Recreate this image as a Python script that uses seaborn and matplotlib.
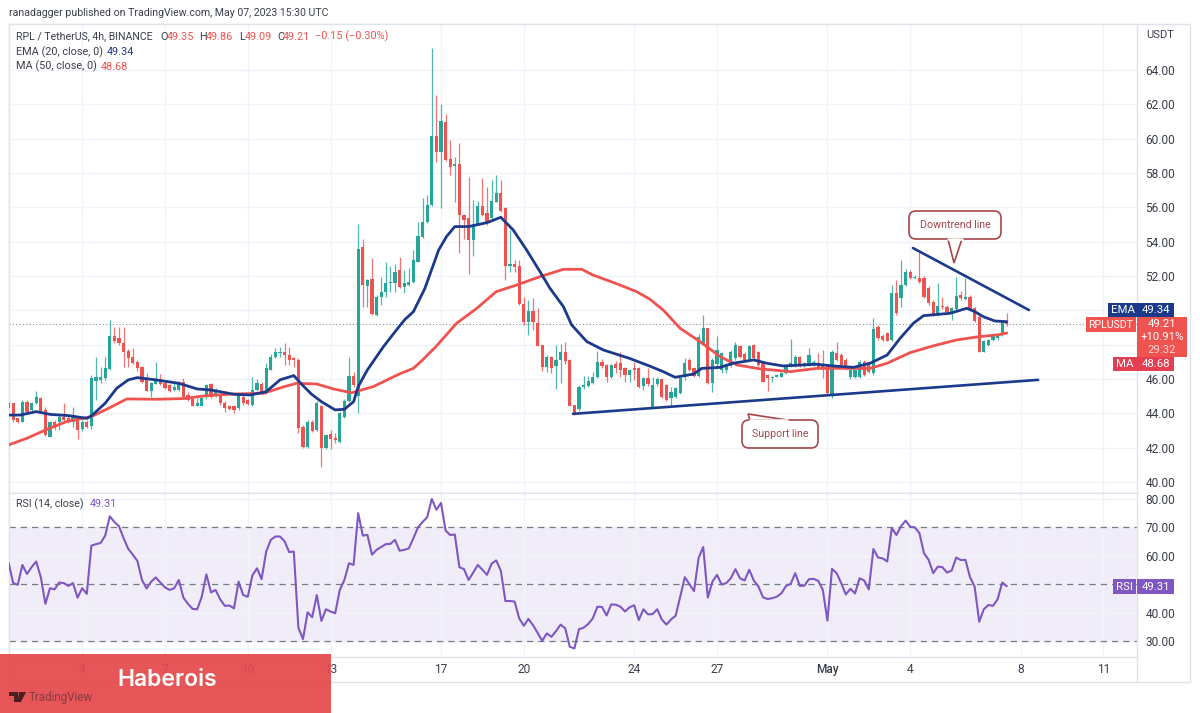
import matplotlib
matplotlib.use("Agg")
import matplotlib.pyplot as plt
import matplotlib.transforms as mtransforms
from matplotlib.patches import FancyBboxPatch, Polygon, Rectangle
import pandas as pd
import seaborn as sns

# 4h candles
open_px = [
    44.29,44.59,43.71,43.52,44.68,44.2,44.59,44.88,44.2,42.65,
    43.52,43.52,43.81,43.71,43.52,43.71,43.07,43.52,43.26,45.91,
    45.95,46.04,46.57,48.51,48.37,48.08,47.63,47.27,47.0,46.68,
    45.95,45.32,45.71,45.98,45.75,45.63,45.36,45.36,45.85,45.07,
    44.82,44.45,44.45,44.94,45.69,45.03,45.07,44.62,44.45,44.45,
    44.29,44.97,44.78,44.49,45.36,45.71,45.17,46.53,47.27,47.5,
    47.6,47.4,47.2,47.11,43.23,42.06,43.52,43.03,44.45,41.96,
    42.8,42.55,42.35,43.81,44.74,46.18,45.0,53.71,51.42,51.81,
    49.73,50.8,51.09,51.57,51.57,52.35,51.34,51.48,51.67,52.84,
    54.29,55.17,56.14,60.16,59.25,60.95,58.8,58.41,58.53,55.56,
    55.36,54.1,55.03,56.1,55.65,55.36,56.33,56.82,55.94,52.58,
    52.7,52.58,50.35,49.34,49.98,49.25,47.98,46.72,47.26,46.76,
    47.11,47.56,47.11,44.49,44.24,45.52,45.6,45.75,46.1,47.01,
    46.82,46.1,46.88,46.92,46.62,46.24,46.62,46.62,45.57,46.04,
    44.39,45.71,46.0,45.65,44.88,44.97,45.21,46.14,47.11,46.62,
    46.18,48.08,48.95,45.75,46.9,46.53,46.53,46.76,47.21,47.93,
    47.46,47.11,47.98,47.6,46.92,46.24,46.04,46.14,46.14,46.33,
    46.76,46.78,47.26,46.78,46.82,46.82,46.92,46.78,46.76,45.07,
    47.5,47.4,47.11,46.14,46.14,46.14,47.01,46.82,46.33,49.05,
    48.51,48.66,48.27,50.99,50.7,51.48,52.26,51.87,51.87,51.87,
    51.28,50.51,49.73,50.26,50.22,49.83,50.06,50.9,50.66,50.8,
    50.12,49.63,47.6,48.0,48.27,48.37,48.56,49.35,
]
close_px = [
    44.59,43.61,43.52,44.68,44.10,44.59,44.97,44.10,42.74,43.52,
    43.23,43.81,43.61,43.52,43.91,43.03,43.52,43.23,46.04,46.1,
    46.14,46.62,48.51,48.24,48.08,47.6,47.2,46.95,46.62,45.85,
    45.32,45.75,45.95,45.71,45.46,45.32,45.56,45.79,44.97,44.78,
    44.45,44.59,44.88,45.65,44.97,45.36,44.59,44.29,44.26,44.2,
    45.13,44.59,44.55,45.36,45.75,45.2,46.62,47.27,47.6,47.6,
    47.4,47.11,47.11,43.13,42.06,43.52,43.0,44.62,41.96,42.74,
    42.51,42.45,44.0,44.74,46.18,45.65,53.59,51.48,51.77,49.79,
    50.8,51.09,51.61,51.67,52.26,51.34,51.61,51.67,52.93,54.33,
    55.17,56.14,60.16,59.25,61.03,58.76,58.33,58.53,55.56,55.26,
    54.1,55.03,56.1,55.56,55.07,56.37,56.82,55.81,52.58,52.7,
    52.55,50.35,49.34,49.98,49.34,47.92,46.72,47.3,46.62,47.11,
    47.6,47.07,44.43,44.04,45.52,45.65,45.91,46.14,47.01,46.76,
    46.14,46.82,46.62,46.53,46.24,46.53,46.53,45.52,46.04,45.71,
    45.65,46.0,44.97,44.78,45.27,45.46,46.04,46.95,46.53,46.18,
    48.47,48.95,45.75,47.11,47.69,47.5,46.82,47.6,47.98,47.27,
    47.11,47.93,47.21,46.82,45.85,46.04,46.14,46.24,46.33,46.82,
    46.92,47.3,46.78,46.95,47.4,47.01,46.72,46.62,45.17,47.6,
    47.11,46.82,46.62,46.53,46.53,47.01,46.24,46.43,48.9,48.37,
    48.27,48.24,51.03,49.83,51.48,52.26,51.87,51.97,51.67,50.8,
    50.41,49.73,50.26,50.18,49.93,50.12,50.84,50.7,50.76,50.06,
    49.4,47.6,48.24,48.27,48.56,48.56,49.35,49.21,
]
high_px = [
    44.88,44.62,43.75,44.75,44.75,44.65,45.32,44.95,44.39,43.55,
    43.6,43.9,44.59,43.9,44.39,43.75,43.6,43.6,46.24,47.3,
    46.72,47.3,49.44,49.01,49.05,49.01,47.75,47.79,47.1,46.75,
    46.33,45.8,47.01,46.27,45.85,45.7,45.75,45.9,46.04,45.26,
    44.9,44.88,44.95,45.7,45.75,45.45,45.15,44.7,44.5,44.5,
    45.2,45.1,44.85,46.14,45.98,45.8,46.95,47.46,47.79,47.89,
    48.12,47.85,47.3,47.2,43.3,43.6,43.6,44.7,44.5,42.8,
    43.03,42.84,44.1,44.85,47.27,46.43,55.01,54.16,51.85,53.03,
    50.9,51.92,52.84,52.59,52.7,53.09,52.35,52.45,53.52,55.17,
    56.53,56.72,65.26,62.55,62.0,61.44,59.92,58.95,59.73,55.6,
    57.79,56.43,56.39,57.69,57.2,57.59,57.89,57.59,56.0,54.68,
    52.93,52.93,50.8,50.6,50.7,50.12,48.0,47.4,47.35,47.98,
    48.04,48.18,47.15,44.5,45.65,46.18,46.18,46.43,47.65,47.15,
    46.9,46.9,47.07,47.59,46.7,46.6,47.01,46.7,46.1,46.62,
    46.14,46.1,46.05,45.7,45.52,45.55,46.1,47.25,47.2,46.7,
    48.6,49.73,49.0,47.2,48.51,47.6,46.9,47.7,48.18,48.0,
    47.55,48.0,48.05,47.65,47.0,46.3,46.2,46.3,46.4,46.9,
    48.31,47.4,47.35,47.0,47.79,47.1,47.5,47.69,46.85,47.7,
    48.18,47.5,47.2,46.6,46.6,47.1,47.1,46.9,49.54,49.15,
    48.6,48.75,51.48,51.77,52.93,52.4,52.35,52.05,53.42,52.0,
    51.4,50.6,51.58,50.8,50.3,50.2,51.96,51.1,51.87,50.9,
    50.2,49.7,48.3,48.35,48.65,48.65,49.4,49.86,
]
low_px = [
    44.25,43.52,43.42,43.5,44.05,44.15,44.55,44.05,42.7,42.6,
    43.03,43.03,43.52,43.45,43.23,42.49,43.0,43.15,43.1,44.78,
    45.75,45.95,46.5,48.08,48.0,46.72,46.68,46.9,46.45,45.75,
    45.3,44.94,45.7,45.65,45.4,45.25,45.3,45.3,44.9,44.7,
    44.4,44.4,44.4,44.85,44.9,44.95,44.5,44.1,44.2,44.0,
    44.2,44.5,44.5,44.4,45.3,45.1,45.1,46.5,47.2,47.3,
    46.82,46.82,46.68,42.84,41.96,41.96,42.9,42.95,40.9,41.9,
    41.9,42.3,42.25,43.7,44.65,45.55,44.0,50.22,50.22,49.7,
    49.65,50.31,50.8,51.09,51.09,51.3,50.99,51.4,51.6,52.8,
    54.2,55.1,56.1,58.66,55.94,58.7,57.89,56.33,53.32,54.14,
    52.1,53.17,54.95,55.5,55.0,55.3,56.3,55.75,51.77,52.25,
    52.25,50.3,49.15,48.57,48.86,47.9,46.49,46.43,46.37,45.4,
    45.75,46.9,44.4,43.91,44.15,45.4,45.55,45.7,46.05,46.62,
    45.85,46.05,46.37,46.1,45.85,45.85,45.95,45.45,45.36,45.6,
    44.3,45.6,44.9,44.7,44.43,44.9,45.15,45.95,46.45,46.1,
    46.1,48.0,45.7,45.27,46.6,46.37,46.37,46.7,47.1,47.2,
    47.05,47.05,47.15,46.75,45.8,45.32,45.85,46.1,46.1,46.3,
    46.7,46.7,46.7,46.7,46.75,46.75,46.6,46.04,45.1,44.88,
    47.05,46.75,46.55,46.0,46.05,46.05,46.2,46.35,46.25,48.3,
    48.2,48.2,48.2,49.7,50.2,51.4,51.8,51.8,51.6,50.7,
    50.3,49.65,49.65,50.1,49.85,49.44,50.0,50.6,50.6,50.0,
    49.35,47.55,47.55,47.9,48.2,48.3,48.5,49.09,
]
rsi_vals = [
    57.6,50.4,49.8,56.8,53.6,56,58,52.5,43.1,48.6,
    48.2,50.6,50.4,49.4,50.4,45.3,48.6,46.6,63.6,64.1,
    64.5,67.1,73.9,71.9,70.4,66.2,62.5,60.4,58.2,51.5,
    48.5,50.9,52.4,50.6,48.9,48,48.6,51.5,45.3,43.1,
    41.3,41.2,45.6,53.5,47.1,48,44.7,42.4,42.5,41.5,
    50.9,46.2,45.6,53.1,55.6,51.8,61.5,65.6,66.8,66.8,
    65.1,61.3,61.5,34.7,30.7,40.1,38.4,46.2,37.1,41.2,
    40.4,39.8,48,51.5,57.4,56.8,75,67.1,67.4,60.4,
    62.1,63.1,64.1,64.2,65.6,61.8,62.1,62.6,66.2,70,
    71.9,73.6,80,76.2,78.6,68.9,67.3,67.5,56,55.3,
    51.5,54.1,56.8,55.1,53.3,57.2,58.4,54.8,44.1,44.1,
    43.9,38,35.4,37.8,35.6,32.9,30.1,32.7,31.5,33.5,
    35.8,34.5,28,27.4,34.2,34.7,36,38,42.1,42,
    39,42.9,42.8,42.1,40.4,41.9,42.6,37.4,41.2,39.4,
    39.5,41.2,37.6,35.8,37.6,38.9,45.6,52.5,50,47.6,
    59.2,63.1,45.3,50.9,53.3,49.9,50.4,52.1,55.3,52.1,
    51.3,55.1,51.3,49.2,45.4,44.8,45.1,45.6,46.8,49.4,
    50.1,53.9,49.4,49.5,51.8,51.9,51.2,48,37.2,55.4,
    53.9,50.4,46.4,48.4,46.8,52.1,51.3,48.2,62.4,59.4,
    59.1,58,69.8,67.3,70.4,72.4,70.2,70,68,60.9,
    58.6,53.9,56.2,56,54.1,54.8,59.4,58.5,58.6,52.5,
    49.2,36.8,41.2,42.7,42.4,44.7,50.6,49.31,
]

# moving averages, read at the bends of each curve
ema_bar = [0,2.5,6,9,13,17,18,21,23.5,26,28,32,37,41,44,49,52.5,56,59,62,63.5,65.8,68,71,73,75,76,78,
           81.5,85,86.2,88,90.5,93.5,95.2,97,100,104,107,109.7,112.6,115.5,117.7,120.6,122.4,125.7,129.3,135,
           139.4,142.3,144.9,148.9,150.7,154.7,157.5,162,164.8,168.4,172.8,175.7,179.3,183.7,187.3,191,193.8,
           196.7,198.9,204.7,208.3,210,211.9,214.4,217]
ema_val = [43.9,43.9,44.1,43.94,43.87,43.71,43.85,44.59,45.46,45.95,46.08,45.95,45.75,45.42,45.36,45.11,45.07,45.26,45.95,46.2,45.75,45.13,44.68,44.2,44.24,44.68,45.56,46.53,
           47.89,49.09,49.48,49.92,51.28,53.52,54.3,54.88,54.88,55.11,55.42,54.68,53.52,52.26,51.28,50.22,49.15,48.18,47.69,47.2,
           46.75,46.43,46.1,46.29,46.62,46.68,46.92,47.11,46.92,46.76,46.82,46.86,46.76,46.68,46.92,47.4,48.37,
           49.25,49.69,49.83,50.12,49.93,49.63,49.38,49.34]
ma_bar = [0,4,8,12.6,18,22,25.7,32.2,38,43,49,55.4,60,62.6,67,70.6,74.6,79.3,85,88,90,92.9,97.4,101.8,106,110.5,
          115.5,120.6,124.6,127,132,136.5,139.4,142.3,146,150.3,154.7,158.3,163.4,170,175.7,183,187.3,191,196,
          201,206,211,215,217]
ma_val = [42.16,42.55,43.03,43.52,43.81,44.33,44.84,44.82,44.86,45.03,45.13,45.17,45.56,45.75,45.71,45.42,45.2,45.56,46.3,46.62,47.11,47.89,49.25,50.12,51.09,51.48,
          51.96,52.39,52.39,52.06,51.57,51.09,50.65,50.02,48.95,48.18,47.3,46.82,46.59,46.43,46.62,46.62,46.62,46.92,47.54,
          47.93,48.27,48.47,48.57,48.68]

# drawn trend lines
support_bar = [122.7, 223.8]
support_val = [43.97, 45.95]
downtrend_bar = [196.6, 221.8]
downtrend_val = [53.63, 50.02]

last_price = 49.21
price_ticks = [40, 42, 44, 46, 48, 50, 52, 54, 56, 58, 60, 62, 64]
price_hidden = [48, 50]
rsi_ticks = [30, 40, 50, 60, 70, 80]
rsi_hidden = [50]
date_bars = [16, 34, 52, 70, 94, 112, 136, 154, 178, 196, 220, 238]
date_labels = ["4", "7", "10", "13", "17", "20", "24", "27", "May", "4", "8", "11"]

GREEN = "#26a69a"
RED = "#ef5350"
NAVY = "#1c3a8c"
PURPLE = "#7e57c2"
GRID = "#f0f3fa"
FRAME = "#e0e3eb"
TEXT = "#3a3e4a"
NOTE = "#a5474a"
W, H = 1200, 713

sns.set_theme(style="white")
plt.rcParams["font.family"] = ["Roboto", "DejaVu Sans"]

df = pd.DataFrame({"bar": range(len(open_px)), "open": open_px, "close": close_px,
                   "high": high_px, "low": low_px, "rsi": rsi_vals})
df["up"] = df["close"] >= df["open"]
df["color"] = df["up"].map({True: GREEN, False: RED})

fig = plt.figure(figsize=(W / 100, H / 100), dpi=100, facecolor="white")
# pixel transform for the page furniture (labels, tags, banner)
pix = mtransforms.Affine2D().scale(1 / W, -1 / H).translate(0, 1) + fig.transFigure


def ax_at(left, top, right, bottom):
    return fig.add_axes([left / W, 1 - bottom / H, (right - left) / W, (bottom - top) / H])


def px_text(x, y, s, color=TEXT, size=7.8, ha="left", va="center", **kw):
    return fig.text(x, y, s, color=color, fontsize=size, ha=ha, va=va, transform=pix, **kw)


def tag(x0, y0, x1, y1, color, lines, size=8.2):
    fig.add_artist(Rectangle((x0, y0), x1 - x0, y1 - y0, transform=pix, facecolor=color, edgecolor="none", zorder=5))
    step = (y1 - y0) / len(lines)
    for n, (s, c) in enumerate(lines):
        fig.text((x0 + x1) / 2, y0 + step * (n + 0.5), s, color=c, fontsize=size, ha="center", va="center",
                 transform=pix, zorder=6)


def callout(x0, y0, x1, y1, tail, label):
    fig.add_artist(FancyBboxPatch((x0, y0), x1 - x0, y1 - y0, boxstyle="round,pad=0,rounding_size=7", transform=pix,
                                  facecolor="none", edgecolor=NOTE, linewidth=1.2, zorder=3))
    fig.add_artist(Polygon(tail, closed=True, transform=pix, facecolor="white", edgecolor=NOTE, linewidth=1.2, zorder=3))
    # hide the tail edge where it joins the box
    fig.add_artist(plt.Line2D([tail[0][0], tail[-1][0]], [tail[0][1], tail[-1][1]], transform=pix,
                              color="white", linewidth=1.8, zorder=3.5))
    fig.text((x0 + x1) / 2, (y0 + y1) / 2, label, color=NOTE, fontsize=7.7, ha="center", va="center",
             transform=pix, zorder=4)


ax = ax_at(9, 24, 1137, 493)
ax_rsi = ax_at(9, 493, 1137, 657)
xmin, xmax = 0.09, 245.3

# price panel
ax.vlines(df["bar"], df["low"], df["high"], colors=df["color"], linewidth=0.9, alpha=0.8, zorder=2)
body_low = df[["open", "close"]].min(axis=1)
body_h = (df["open"] - df["close"]).abs().clip(lower=0.06)
ax.bar(df["bar"], body_h, bottom=body_low, width=0.66, color=df["color"], linewidth=0, zorder=3)
sns.lineplot(x=ma_bar, y=ma_val, ax=ax, color=RED, linewidth=2.0, estimator=None, zorder=4)
sns.lineplot(x=ema_bar, y=ema_val, ax=ax, color=NAVY, linewidth=2.0, estimator=None, zorder=5)
sns.lineplot(x=support_bar, y=support_val, ax=ax, color=NAVY, linewidth=1.9, estimator=None, zorder=5)
sns.lineplot(x=downtrend_bar, y=downtrend_val, ax=ax, color=NAVY, linewidth=1.9, estimator=None, zorder=5)
ax.axhline(last_price, color="#8a8d96", linewidth=0.8, linestyle=(0, (1, 2)), zorder=1)
ax.set_xlim(xmin, xmax)
ax.set_ylim(39.36, 66.68)
ax.set_yticks(price_ticks)
ax.set_yticklabels(["" if t in price_hidden else f"{t:.2f}" for t in price_ticks])
ax.set_xticks(date_bars)
ax.tick_params(axis="x", labelbottom=False, length=0)

# rsi panel
ax_rsi.axhspan(30, 70, color=PURPLE, alpha=0.1, linewidth=0, zorder=0)
for level in (30, 50, 70):
    ax_rsi.axhline(level, color="#787b86", linewidth=0.9, linestyle=(0, (5, 4)), zorder=1)
sns.lineplot(data=df, x="bar", y="rsi", ax=ax_rsi, color=PURPLE, linewidth=1.5, estimator=None, zorder=3)
ax_rsi.set_xlim(xmin, xmax)
ax_rsi.set_ylim(24.4, 82.1)
ax_rsi.set_yticks(rsi_ticks)
ax_rsi.set_yticklabels(["" if t in rsi_hidden else f"{t:.2f}" for t in rsi_ticks])
ax_rsi.set_xticks(date_bars)
ax_rsi.set_xticklabels(date_labels)
ax_rsi.tick_params(axis="x", length=0, pad=4.5, labelsize=8.6, labelcolor=TEXT)
for lab in ax_rsi.get_xticklabels():
    if lab.get_text() == "May":
        lab.set_fontweight("medium")

for a in (ax, ax_rsi):
    a.yaxis.tick_right()
    a.tick_params(axis="y", length=0, pad=6, labelsize=8.6, labelcolor=TEXT)
    a.grid(True, color=GRID, linewidth=1)
    a.set_axisbelow(True)
    a.set_xlabel("")
    a.set_ylabel("")
    for side in a.spines.values():
        side.set_color(FRAME)
        side.set_linewidth(1)

# outer frame of the scales
fig.add_artist(Rectangle((9, 24), 1181, 658, transform=pix, facecolor="none", edgecolor=FRAME, linewidth=1, zorder=0))
fig.add_artist(plt.Line2D([1137, 1137], [657, 682], transform=pix, color=FRAME, linewidth=1))

# header and legend lines
px_text(9, 13, "ranadagger published on TradingView.com, May 07, 2023 15:30 UTC", size=7.6)
px_text(16, 36.5, "RPL / TetherUS, 4h, BINANCE", size=7.6)
for x, s, c in [(160, "O", TEXT), (167, "49.35", RED), (199, "H", TEXT), (206, "49.86", RED),
                (239, "L", TEXT), (245, "49.09", RED), (277, "C", TEXT), (283, "49.21", RED),
                (315, "\u22120.15 (\u22120.30%)", RED)]:
    px_text(x, 36.5, s, color=c, size=7.8)
px_text(16, 52, "EMA (20, close, 0)")
px_text(107, 52, "49.34", color=NAVY)
px_text(16, 66.5, "MA (50, close, 0)")
px_text(101, 66.5, "48.68", color=RED)
px_text(16, 504, "RSI (14, close)", size=7.7)
px_text(89.5, 504, "49.31", color=PURPLE)
px_text(1146, 35, "USDT", size=8)

# callouts
callout(909, 211, 1001, 239, [(948, 239), (954, 263), (962, 239)], "Downtrend line")
callout(742, 420, 818, 448, [(750, 420), (748, 414), (787, 420)], "Support line")

# right scale tags
tag(1108, 302.5, 1137, 317, NAVY, [("EMA", "white")])
tag(1137, 302.5, 1174, 317, NAVY, [("49.34", "white")])
tag(1086, 317, 1136, 332, RED, [("RPLUSDT", "white")], size=7.6)
tag(1137, 317, 1187, 357, RED, [("49.21", "white"), ("+10.91%", "white"), ("29:32", "#ffd3d2")])
tag(1113, 357, 1137, 371, "#e53e50", [("MA", "white")])
tag(1137, 357, 1174, 371, "#e53e50", [("48.68", "white")])
tag(1113, 579, 1136, 594, PURPLE, [("RSI", "white")])
tag(1137, 579, 1174, 594, PURPLE, [("49.31", "white")])

# banner, with the TradingView mark showing through it
fig.add_artist(Rectangle((0, 654), 331, 59, transform=pix, facecolor="#e5494c", edgecolor="none", alpha=0.93, zorder=7))
fig.add_artist(Polygon([(9, 692), (18, 692), (18, 702), (14, 702), (14, 696), (9, 696)], transform=pix,
                       facecolor="#4a1f24", edgecolor="none", zorder=8))
fig.add_artist(Polygon([(19, 692), (26, 692), (21, 702), (17.5, 702)], transform=pix,
                       facecolor="#4a1f24", edgecolor="none", zorder=8))
px_text(29, 697, "TradingView", color="#8c3a40", size=8.4, zorder=8)
px_text(117, 680.5, "Haberois", color="white", size=16.5, fontweight="semibold", family="Inter", zorder=8)

fig.savefig("out.png", dpi=100)
